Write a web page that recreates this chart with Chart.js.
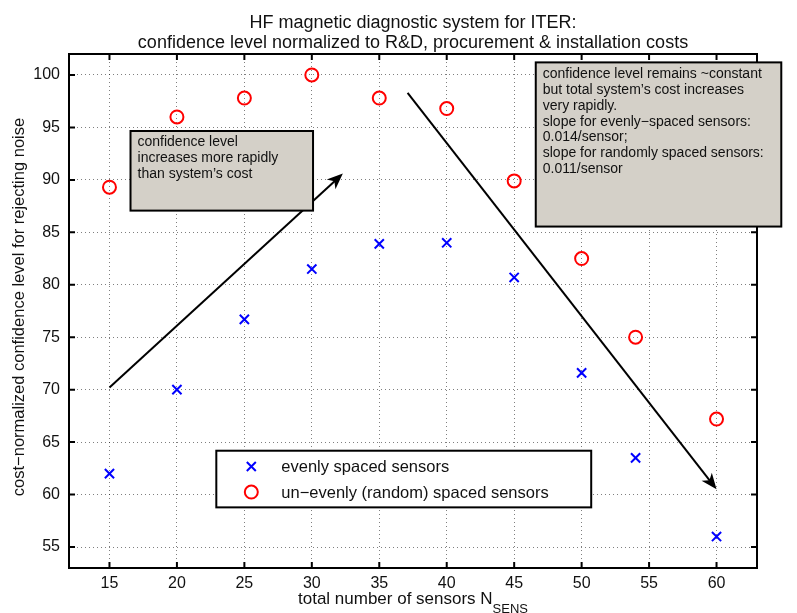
<!DOCTYPE html>
<html>
<head>
<meta charset="utf-8">
<script src="https://cdn.jsdelivr.net/npm/chart.js@4"></script>
<style>
  html, body { margin: 0; padding: 0; background: #fff; }
  #wrap { width: 797px; height: 613px; }
</style>
</head>
<body>
<div id="wrap"><canvas id="chart" width="797" height="613"></canvas></div>
<script>
// ---- data ----
const sensorCounts = [15, 20, 25, 30, 35, 40, 45, 50, 54, 60];
const evenlySpaced = [62.0, 70.0, 76.7, 81.5, 83.9, 84.0, 80.7, 71.6, 63.5, 56.0];
const randomSpaced = [89.3, 96.0, 97.8, 100.0, 97.8, 96.8, 89.9, 82.5, 75.0, 67.2];

const xTicks = [15, 20, 25, 30, 35, 40, 45, 50, 55, 60];
const yTicks = [55, 60, 65, 70, 75, 80, 85, 90, 95, 100];

const titleLines = [
  "HF magnetic diagnostic system for ITER:",
  "confidence level normalized to R&D, procurement & installation costs"
];
const xTitle = "total number of sensors N";
const xTitleSub = "SENS";
const yTitle = "cost\u2212normalized confidence level for rejecting noise";
const seriesLabels = ["evenly spaced sensors", "un\u2212evenly (random) spaced sensors"];

const noteRising = ["confidence level", "increases more rapidly", "than system\u2019s cost"];
const noteFalling = [
  "confidence level remains ~constant",
  "but total system\u2019s cost increases",
  "very rapidly.",
  "slope for evenly\u2212spaced sensors:",
  "0.014/sensor;",
  "slope for randomly spaced sensors:",
  "0.011/sensor"
];

// annotation anchors in data units: [x0, y0, x1, y1]
const risingArrow = [15, 70.2, 32.3, 90.6];
const fallingArrow = [37.1, 98.3, 60, 60.5];
const risingBox = [16.56, 94.66, 30.09, 87.07];
const fallingBox = [46.6, 101.2, 64.8, 85.55];
const legendBox = [22.92, 64.18, 50.71, 58.78];

const FONT = "'Liberation Sans', Arial, Helvetica, sans-serif";

function drawArrow(ctx, x0, y0, x1, y1) {
  const ang = Math.atan2(y1 - y0, x1 - x0);
  const c = Math.cos(ang), s = Math.sin(ang);
  const len = 16, half = 6.5;
  const bx = x1 - len * c, by = y1 - len * s;
  ctx.beginPath();
  ctx.moveTo(x0, y0);
  ctx.lineTo(x1 - 9 * c, y1 - 9 * s);
  ctx.stroke();
  ctx.beginPath();
  ctx.moveTo(x1, y1);
  ctx.lineTo(bx + half * s, by - half * c);
  ctx.lineTo(x1 - len * 0.72 * c, y1 - len * 0.72 * s);
  ctx.lineTo(bx - half * s, by + half * c);
  ctx.closePath();
  ctx.fill();
}

function drawNote(ctx, x, y, box, lines) {
  const l = x.getPixelForValue(box[0]), t = y.getPixelForValue(box[1]);
  const r = x.getPixelForValue(box[2]), b = y.getPixelForValue(box[3]);
  ctx.fillStyle = '#d4d0c8';
  ctx.fillRect(l, t, r - l, b - t);
  ctx.lineWidth = 2;
  ctx.strokeStyle = '#000';
  ctx.strokeRect(l, t, r - l, b - t);
  ctx.fillStyle = '#111';
  ctx.font = '14px ' + FONT;
  ctx.textAlign = 'left';
  ctx.textBaseline = 'alphabetic';
  lines.forEach((txt, i) => ctx.fillText(txt, l + 7, t + 15.5 + i * 15.9));
}

const overlay = {
  id: 'overlay',
  afterDatasetsDraw(chart) {
    const { ctx, chartArea: a, scales: { x, y } } = chart;
    ctx.save();

    // inward tick marks on all four sides
    ctx.strokeStyle = '#000';
    ctx.lineWidth = 2;
    ctx.beginPath();
    xTicks.forEach(v => {
      const px = x.getPixelForValue(v);
      ctx.moveTo(px, a.bottom); ctx.lineTo(px, a.bottom - 6);
      ctx.moveTo(px, a.top); ctx.lineTo(px, a.top + 6);
    });
    yTicks.forEach(v => {
      const py = y.getPixelForValue(v);
      ctx.moveTo(a.left, py); ctx.lineTo(a.left + 6, py);
      ctx.moveTo(a.right, py); ctx.lineTo(a.right - 6, py);
    });
    ctx.stroke();
    ctx.strokeRect(a.left, a.top, a.right - a.left, a.bottom - a.top);

    // arrows
    ctx.fillStyle = '#000';
    ctx.lineWidth = 2;
    [risingArrow, fallingArrow].forEach(arw => {
      drawArrow(ctx,
        x.getPixelForValue(arw[0]), y.getPixelForValue(arw[1]),
        x.getPixelForValue(arw[2]), y.getPixelForValue(arw[3]));
    });

    // text boxes
    drawNote(ctx, x, y, risingBox, noteRising);
    drawNote(ctx, x, y, fallingBox, noteFalling);

    // legend
    const l = x.getPixelForValue(legendBox[0]), t = y.getPixelForValue(legendBox[1]);
    const r = x.getPixelForValue(legendBox[2]), b = y.getPixelForValue(legendBox[3]);
    ctx.fillStyle = '#fff';
    ctx.fillRect(l, t, r - l, b - t);
    ctx.lineWidth = 2;
    ctx.strokeStyle = '#000';
    ctx.strokeRect(l, t, r - l, b - t);
    const rows = [t + 15.7, t + 41.3];
    const mx = l + 35;
    ctx.strokeStyle = '#0000ff';
    ctx.beginPath();
    ctx.moveTo(mx - 4.5, rows[0] - 4.5); ctx.lineTo(mx + 4.5, rows[0] + 4.5);
    ctx.moveTo(mx + 4.5, rows[0] - 4.5); ctx.lineTo(mx - 4.5, rows[0] + 4.5);
    ctx.stroke();
    ctx.strokeStyle = '#ff0000';
    ctx.beginPath();
    ctx.arc(mx, rows[1], 6.5, 0, Math.PI * 2);
    ctx.stroke();
    ctx.fillStyle = '#111';
    ctx.font = '16.5px ' + FONT;
    ctx.textBaseline = 'middle';
    ctx.textAlign = 'left';
    seriesLabels.forEach((s, i) => ctx.fillText(s, l + 65, rows[i] + 1));

    ctx.restore();
  },
  afterDraw(chart) {
    const { ctx, chartArea: a } = chart;
    ctx.save();
    ctx.fillStyle = '#111';
    const cx = (a.left + a.right) / 2;

    ctx.font = '18px ' + FONT;
    ctx.textAlign = 'center';
    ctx.textBaseline = 'middle';
    ctx.fillText(titleLines[0], cx, 23);
    ctx.fillText(titleLines[1], cx, 43);

    // x title with subscript
    ctx.font = '17px ' + FONT;
    const w1 = ctx.measureText(xTitle).width;
    ctx.font = '13px ' + FONT;
    const w2 = ctx.measureText(xTitleSub).width;
    const start = cx - (w1 + w2) / 2;
    ctx.textAlign = 'left';
    ctx.textBaseline = 'alphabetic';
    ctx.font = '17px ' + FONT;
    ctx.fillText(xTitle, start, 604);
    ctx.font = '13px ' + FONT;
    ctx.fillText(xTitleSub, start + w1, 613);

    // y title
    ctx.translate(19, 307);
    ctx.rotate(-Math.PI / 2);
    ctx.font = '16.5px ' + FONT;
    ctx.textAlign = 'center';
    ctx.textBaseline = 'middle';
    ctx.fillText(yTitle, 0, 0);
    ctx.restore();
  }
};

const chart = new Chart(document.getElementById('chart'), {
  type: 'scatter',
  data: {
    datasets: [
      {
        label: seriesLabels[0],
        data: sensorCounts.map((n, i) => ({ x: n, y: evenlySpaced[i] })),
        pointStyle: 'crossRot',
        pointRadius: 6.5,
        pointBorderWidth: 2,
        borderColor: '#0000ff',
        backgroundColor: '#0000ff'
      },
      {
        label: seriesLabels[1],
        data: sensorCounts.map((n, i) => ({ x: n, y: randomSpaced[i] })),
        pointStyle: 'circle',
        pointRadius: 6.5,
        pointBorderWidth: 2,
        borderColor: '#ff0000',
        backgroundColor: 'rgba(0,0,0,0)'
      }
    ]
  },
  options: {
    responsive: false,
    animation: false,
    layout: { padding: { top: 54, right: 40, left: 0, bottom: 0 } },
    plugins: { legend: { display: false }, title: { display: false }, tooltip: { enabled: false } },
    scales: {
      x: {
        type: 'linear',
        min: 12,
        max: 63,
        afterBuildTicks: s => { s.ticks = xTicks.map(v => ({ value: v })); },
        afterFit: s => { s.height = 45; },
        grid: { color: 'rgba(0,0,0,0.5)', lineWidth: 1, drawTicks: false },
        border: { display: false, dash: [1, 3] },
        ticks: { color: '#111', padding: 6, font: { family: FONT, size: 16 }, maxRotation: 0 }
      },
      y: {
        min: 53,
        max: 102,
        afterBuildTicks: s => { s.ticks = yTicks.map(v => ({ value: v })); },
        afterFit: s => { s.width = 69; },
        grid: { color: 'rgba(0,0,0,0.5)', lineWidth: 1, drawTicks: false },
        border: { display: false, dash: [1, 3] },
        ticks: { color: '#111', padding: 9, font: { family: FONT, size: 16 } }
      }
    }
  },
  plugins: [overlay]
});
</script>
</body>
</html>
